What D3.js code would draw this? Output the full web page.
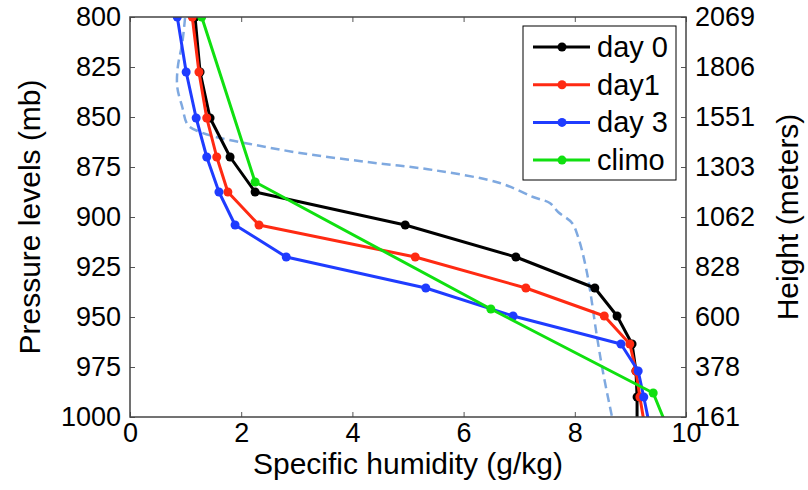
<!DOCTYPE html>
<meta charset="utf-8">
<style>
  body { margin: 0; background: #fff; }
  svg text { font-family: "Liberation Sans", Arial, sans-serif; fill: #000; }
  .axis path.domain { display: none; }
  .axis line { stroke: #555; stroke-width: 1; }
</style>
<svg width="808" height="490"></svg>
<script src="https://cdn.jsdelivr.net/npm/d3@7"></script>
<script>

// pressure ticks on the left, matching heights on the right
var pressureTicks = [800, 825, 850, 875, 900, 925, 950, 975, 1000],
    heightTicks = [2069, 1806, 1551, 1303, 1062, 828, 600, 378, 161],
    humidityTicks = [0, 2, 4, 6, 8, 10];

// model levels (mb) used by the forecast profiles
var levels = [800, 827.5, 850.5, 870, 887.5, 904, 920, 935.5, 949.5, 963.5, 977, 990, 1005];
var day0 = [1.17, 1.26, 1.44, 1.80, 2.25, 4.95, 6.94, 8.36, 8.76, 9.03, 9.10, 9.12, 9.12];
var day1 = [1.12, 1.24, 1.38, 1.56, 1.76, 2.32, 5.13, 7.12, 8.53, 8.99, 9.10, 9.17, 9.26];
var day3 = [0.85, 1.01, 1.19, 1.38, 1.60, 1.89, 2.81, 5.32, 6.89, 8.83, 9.14, 9.24, 9.35];

var climoLevels = [800, 882.5, 946, 988, 1005];
var climo = [1.29, 2.25, 6.49, 9.41, 9.66];

// dashed profile (no markers)
var dashLevels = [800.5, 813, 825, 835, 845, 854, 857.5, 860.5, 863.5, 868, 872.5, 876.5, 883, 890, 893, 897.5, 903, 910, 928, 960, 978, 1000];
var dashQ = [0.99, 0.94, 0.86, 0.85, 0.94, 1.04, 1.26, 1.62, 2.16, 3.06, 4.26, 5.45, 6.65, 7.25, 7.55, 7.70, 7.95, 8.06, 8.22, 8.40, 8.51, 8.67];

var seriesNames = ["day 0", "day1", "day 3", "climo"],
    seriesColors = ["#000000", "#ff2a12", "#1f3cff", "#10e010"];

var series = [
  {name: seriesNames[0], color: seriesColors[0], p: levels, q: day0},
  {name: seriesNames[1], color: seriesColors[1], p: levels, q: day1},
  {name: seriesNames[2], color: seriesColors[2], p: levels, q: day3},
  {name: seriesNames[3], color: seriesColors[3], p: climoLevels, q: climo}
];

var svg = d3.select("svg"),
    mLeft = 130, mRight = 686, mTop = 17, mBottom = 417;

var x = d3.scaleLinear().domain([0, 10]).range([mLeft, mRight]),
    y = d3.scaleLinear().domain([800, 1000]).range([mTop, mBottom]);

svg.append("clipPath").attr("id", "plot")
  .append("rect")
    .attr("x", mLeft).attr("y", mTop)
    .attr("width", mRight - mLeft).attr("height", mBottom - mTop);

var g = svg.append("g").attr("clip-path", "url(#plot)");

// dashed profile
g.append("path")
  .datum(dashQ.map((q, i) => [q, dashLevels[i]]))
  .attr("fill", "none")
  .attr("stroke", "#7fa9e0")
  .attr("stroke-width", 2.5)
  .attr("stroke-dasharray", "9,5")
  .attr("d", d3.line().x(d => x(d[0])).y(d => y(d[1])).curve(d3.curveCatmullRom));

var line = d3.line().x(d => x(d[0])).y(d => y(d[1]));

series.forEach(s => {
  var pts = s.q.map((q, i) => [q, s.p[i]]);
  g.append("path")
    .datum(pts)
    .attr("fill", "none")
    .attr("stroke", s.color)
    .attr("stroke-width", 3)
    .attr("stroke-linejoin", "round")
    .attr("d", line);
  g.selectAll(null)
    .data(pts)
    .enter().append("circle")
      .attr("cx", d => x(d[0]))
      .attr("cy", d => y(d[1]))
      .attr("r", 4.5)
      .attr("fill", s.color);
});

// axes, ticks pointing inward
svg.append("g").attr("class", "axis")
    .attr("transform", "translate(" + mLeft + ",0)")
    .call(d3.axisLeft(y).tickValues(pressureTicks).tickFormat(d3.format("d"))
      .tickSizeInner(-5).tickSizeOuter(0).tickPadding(9))
    .selectAll("text").style("font-size", "27px");

svg.append("g").attr("class", "axis")
    .attr("transform", "translate(" + mRight + ",0)")
    .call(d3.axisRight(y).tickValues(pressureTicks).tickSizeInner(-5).tickSizeOuter(0).tickPadding(9)
      .tickFormat((d, i) => heightTicks[i]))
    .selectAll("text").style("font-size", "27px");

svg.append("g").attr("class", "axis")
    .attr("transform", "translate(0," + mBottom + ")")
    .call(d3.axisBottom(x).tickValues(humidityTicks).tickSizeInner(-5).tickSizeOuter(0).tickPadding(6))
    .selectAll("text").style("font-size", "27px");

svg.append("g").attr("class", "axis")
    .attr("transform", "translate(0," + mTop + ")")
    .call(d3.axisTop(x).tickValues(humidityTicks).tickSizeInner(-5).tickSizeOuter(0).tickFormat(""));

svg.append("rect")
    .attr("x", mLeft).attr("y", mTop)
    .attr("width", mRight - mLeft).attr("height", mBottom - mTop)
    .attr("fill", "none").attr("stroke", "#444").attr("stroke-width", 1.5);

// axis labels
svg.append("text")
    .attr("x", (mLeft + mRight) / 2).attr("y", 474)
    .attr("text-anchor", "middle")
    .style("font-size", "30px")
    .text("Specific humidity (g/kg)");

svg.append("text")
    .attr("transform", "translate(40," + (mTop + mBottom) / 2 + ") rotate(-90)")
    .attr("text-anchor", "middle")
    .style("font-size", "30px")
    .text("Pressure levels (mb)");

svg.append("text")
    .attr("transform", "translate(798," + (mTop + mBottom) / 2 + ") rotate(-90)")
    .attr("text-anchor", "middle")
    .style("font-size", "30px")
    .text("Height (meters)");

// legend
var legend = svg.append("g");
legend.append("rect")
    .attr("x", 523).attr("y", 26).attr("width", 153).attr("height", 154)
    .attr("fill", "#fff").attr("stroke", "#000").attr("stroke-width", 1);

var rows = legend.selectAll("g.row")
  .data(series)
  .enter().append("g")
    .attr("class", "row")
    .attr("transform", (d, i) => "translate(0," + (47 + i * 37.7) + ")");

rows.append("line")
    .attr("x1", 533).attr("x2", 590)
    .attr("stroke", d => d.color).attr("stroke-width", 3);
rows.append("circle")
    .attr("cx", 562).attr("r", 4.5)
    .attr("fill", d => d.color);
rows.append("text")
    .attr("x", 597).attr("y", 10)
    .style("font-size", "29px")
    .text(d => d.name);

</script>
